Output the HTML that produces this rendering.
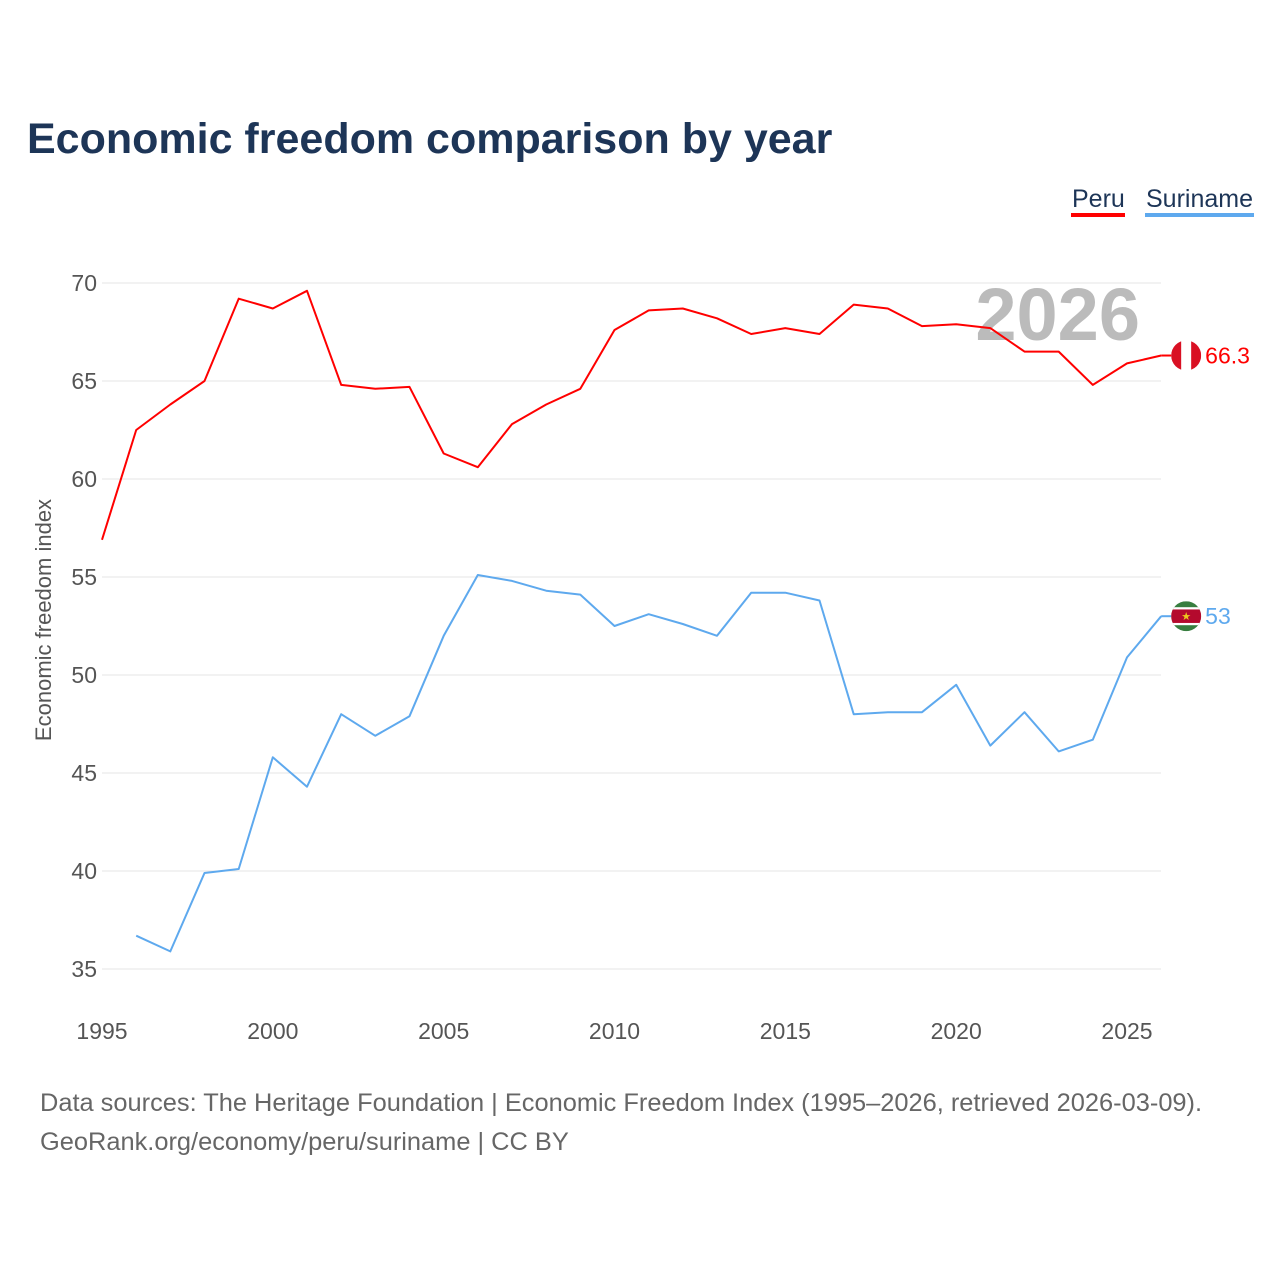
<!DOCTYPE html>
<html><head><meta charset="utf-8">
<style>
body{margin:0;background:#fff;font-family:"Liberation Sans",sans-serif;}
svg{display:block}
</style></head>
<body>
<svg id="chart" width="1280" height="1280" xmlns="http://www.w3.org/2000/svg">
<text x="27" y="153" font-size="43" font-weight="bold" fill="#1d3557">Economic freedom comparison by year</text>
<g>
<text x="1072" y="207" font-size="25" fill="#1d3557">Peru</text>
<rect x="1071" y="213" width="54" height="4" fill="#ff0000"/>
<text x="1146" y="207" font-size="25" fill="#1d3557">Suriname</text>
<rect x="1145" y="213" width="109" height="4" fill="#5ea9ee"/>
</g>
<text x="0" y="0" transform="translate(51,620) rotate(-90)" text-anchor="middle" font-size="22" fill="#555">Economic freedom index</text>
<g id="grid"></g>
<text x="1140" y="340" text-anchor="end" font-size="74" font-weight="bold" fill="#bbbbbb">2026</text>
<g id="series"></g>
<text x="40" y="1111" font-size="25.4" fill="#666">Data sources: The Heritage Foundation | Economic Freedom Index (1995–2026, retrieved 2026-03-09).</text>
<text x="40" y="1150" font-size="25.4" fill="#666">GeoRank.org/economy/peru/suriname | CC BY</text>
</svg>
<script>
const years=[1995,1996,1997,1998,1999,2000,2001,2002,2003,2004,2005,2006,2007,2008,2009,2010,2011,2012,2013,2014,2015,2016,2017,2018,2019,2020,2021,2022,2023,2024,2025,2026];
const peru=[56.9,62.5,63.8,65.0,69.2,68.7,69.6,64.8,64.6,64.7,61.3,60.6,62.8,63.8,64.6,67.6,68.6,68.7,68.2,67.4,67.7,67.4,68.9,68.7,67.8,67.9,67.7,66.5,66.5,64.8,65.9,66.3];
const suriname=[null,36.7,35.9,39.9,40.1,45.8,44.3,48.0,46.9,47.9,52.0,55.1,54.8,54.3,54.1,52.5,53.1,52.6,52.0,54.2,54.2,53.8,48.0,48.1,48.1,49.5,46.4,48.1,46.1,46.7,50.9,53.0];
const yTicks=[35,40,45,50,55,60,65,70];
const xTicks=[1995,2000,2005,2010,2015,2020,2025];
const NS="http://www.w3.org/2000/svg";
const X=v=>102+(v-1995)*(1127-102)/30;
const Y=v=>969-(v-35)*(969-283)/35;
function mk(t,a,p){const e=document.createElementNS(NS,t);for(const k in a)e.setAttribute(k,a[k]);p.appendChild(e);return e;}
const grid=document.getElementById('grid');
yTicks.forEach(t=>{
 const l=mk('line',{x1:102,x2:1161,y1:Y(t),y2:Y(t),stroke:'#e6e6e6','stroke-width':1},grid);
 
 
 const tx=mk('text',{x:97,y:Y(t)+8,'text-anchor':'end','font-size':23,fill:'#555'},grid);
 tx.textContent=t;
 
 
});
xTicks.forEach(t=>{
 const tx=mk('text',{x:X(t),y:1039,'text-anchor':'middle','font-size':23,fill:'#555'},grid);
 tx.textContent=t;
 
 
});
const sg=document.getElementById('series');
function line(vals,color,name){
 let d='';vals.forEach((v,i)=>{if(v==null)return;d+=(d?'L':'M')+X(years[i]).toFixed(1)+','+Y(v).toFixed(1);});
 const p=mk('path',{d:d,fill:'none',stroke:color,'stroke-width':2,'stroke-linejoin':'round'},sg);
 
 
 const last=vals[vals.length-1];
 const lx=X(years[years.length-1]),ly=Y(last);
 const c=mk('line',{x1:lx,x2:lx+12,y1:ly,y2:ly,stroke:color,'stroke-width':2},sg);
 
 
 const fg=mk('g',{},sg);
 
 
 const cx=lx+25,r=15;
 const clipId='clip-'+name;
 const cp=mk('clipPath',{id:clipId},fg);mk('circle',{cx:cx,cy:ly,r:r},cp);
 const g=mk('g',{'clip-path':'url(#'+clipId+')'},fg);
 if(name==='peru'){
  mk('rect',{x:cx-r,y:ly-r,width:2*r,height:2*r,fill:'#fff'},g);
  mk('rect',{x:cx-r,y:ly-r,width:r*2/3,height:2*r,fill:'#d91023'},g);
  mk('rect',{x:cx+r/3,y:ly-r,width:r*2/3,height:2*r,fill:'#d91023'},g);
 }else{
  mk('rect',{x:cx-r,y:ly-r,width:2*r,height:2*r,fill:'#377e3f'},g);
  mk('rect',{x:cx-r,y:ly-r*0.6,width:2*r,height:r*1.2,fill:'#fff'},g);
  mk('rect',{x:cx-r,y:ly-r*0.45,width:2*r,height:r*0.9,fill:'#b40a2d'},g);
  const s=mk('text',{x:cx,y:ly+4,'text-anchor':'middle','font-size':11,fill:'#ecc81d'},g);s.textContent='★';
 }
 const t=mk('text',{x:cx+19,y:ly+8,'font-size':23,fill:color},sg);
 t.textContent=last;
 
 
}
line(peru,'#ff0000','peru');
line(suriname,'#5ea9ee','suriname');
</script>
</body></html>
